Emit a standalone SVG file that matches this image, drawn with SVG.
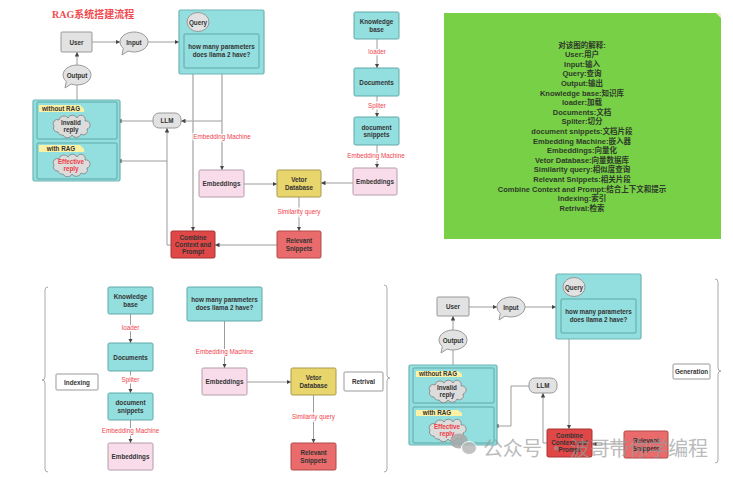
<svg xmlns="http://www.w3.org/2000/svg" width="733" height="477" viewBox="0 0 733 477">
<style>
.t{font-family:"Liberation Sans","Noto Sans CJK SC",sans-serif;font-size:6.3px;font-weight:bold;fill:#333;text-anchor:middle}
.lb{font-family:"Liberation Sans","Noto Sans CJK SC",sans-serif;font-size:6.3px;fill:#f0434b;text-anchor:middle;stroke:#fff;stroke-width:2.5px;paint-order:stroke}
.red{fill:#ee3b45}
.teal{fill:#93dede;stroke:#5fa9a9;stroke-width:1}
.tealc{fill:#93dede;stroke:#6fb5b5;stroke-width:1.2}
.gray{fill:#e2e2e2;stroke:#999;stroke-width:1}
.pink{fill:#f9dcea;stroke:#b49cab;stroke-width:1}
.yel{fill:#e8d56c;stroke:#a9994f;stroke-width:1}
.rel{fill:#ea6b6b;stroke:#b04a4a;stroke-width:1}
.comb{fill:#e04848;stroke:#a83333;stroke-width:1}
.tag{fill:#fdf1a4}
.wb{fill:#fff;stroke:#999;stroke-width:1}
.c{fill:none;stroke:#9c9c9c;stroke-width:1}
.cw{fill:none;stroke:#b0b0b0;stroke-width:1.4}
.br{fill:none;stroke:#aaa;stroke-width:1}
.g{font-family:"Liberation Sans","Noto Sans CJK SC",sans-serif;font-size:7.5px;font-weight:bold;fill:#2e3a2a;text-anchor:middle}
.wm{font-family:"Noto Sans CJK SC","Liberation Sans",sans-serif;font-size:20px;fill:#9a9a9a;fill-opacity:0.8}
</style>
<defs>
<marker id="ah" viewBox="0 0 6 6" refX="6" refY="3" markerWidth="4.5" markerHeight="4.5" markerUnits="userSpaceOnUse" orient="auto"><path d="M0,0 L6,3 L0,6 Z" fill="#444"/></marker>
<path id="cloud" d="M-13,6 A4 4 0 0 1 -17,0 A4 4 0 0 1 -12,-6 A5 5 0 0 1 -3,-8 A5 5 0 0 1 6,-8 A4 4 0 0 1 14,-5 A4 4 0 0 1 16,3 A4 4 0 0 1 10,8 A5 5 0 0 1 1,9 A5 5 0 0 1 -8,9 A4 4 0 0 1 -13,6 Z" fill="#dcdcdc" stroke="#888" stroke-width="0.9"/>
<path id="bubble" d="M-5.9,9.06 L-12,13 L-10.7,6.43 A14 10 0 1 1 -5.9,9.06 Z" fill="#e2e2e2" stroke="#999" stroke-width="1"/>
</defs>
<rect width="733" height="477" fill="#fff"/>

<text x="52" y="18" font-family="Liberation Serif,'Noto Sans CJK SC',serif" font-size="10" font-weight="bold" fill="#f04a4f">RAG系统搭建流程</text>

<!-- ===== Connectors ===== -->
<g id="connectors">
  <!-- top diagram -->
  <path class="c" d="M92,42 H120" marker-end="url(#ah)"/>
  <path class="c" d="M148,42 H179" marker-end="url(#ah)"/>
  <path class="c" d="M77,65 V52" marker-end="url(#ah)"/>
  <path class="c" d="M77,100 V85"/>
  <path class="c" d="M153,121 H117" marker-end="url(#ah)"/>
  <path class="cw" d="M222,68 V170" marker-end="url(#ah)"/>
  <path class="c" d="M222,121 H181" marker-end="url(#ah)"/>
  <path class="cw" d="M193,68 V231" marker-end="url(#ah)"/>
  <path class="c" d="M171,245 H167 V128" marker-end="url(#ah)"/>
  <path class="c" d="M167,161 H117" marker-end="url(#ah)"/>
  <path class="c" d="M244,184 H277" marker-end="url(#ah)"/>
  <path class="c" d="M353,183 H321" marker-end="url(#ah)"/>
  <path class="c" d="M299,197 V231" marker-end="url(#ah)"/>
  <path class="c" d="M277,245 H215" marker-end="url(#ah)"/>
  <path class="c" d="M377,39 V68" marker-end="url(#ah)"/>
  <path class="c" d="M377,96 V117" marker-end="url(#ah)"/>
  <path class="c" d="M377,145 V168" marker-end="url(#ah)"/>
  <text class="lb" x="222" y="139">Embedding Machine</text>
  <text class="lb" x="299" y="214">Similarity query</text>
  <text class="lb" x="377" y="54">loader</text>
  <text class="lb" x="377" y="108">Spliter</text>
  <text class="lb" x="376" y="158">Embedding Machine</text>
  <!-- indexing -->
  <path class="c" d="M130.5,314 V343" marker-end="url(#ah)"/>
  <path class="c" d="M130.5,371 V393" marker-end="url(#ah)"/>
  <path class="c" d="M130.5,420 V443" marker-end="url(#ah)"/>
  <text class="lb" x="130.5" y="330">loader</text>
  <text class="lb" x="130.5" y="382">Spliter</text>
  <text class="lb" x="130.5" y="433">Embedding Machine</text>
  <!-- retrival -->
  <path class="c" d="M224.5,321 V368" marker-end="url(#ah)"/>
  <path class="c" d="M247,382 H291" marker-end="url(#ah)"/>
  <path class="c" d="M313.5,395 V443" marker-end="url(#ah)"/>
  <text class="lb" x="224.5" y="354">Embedding Machine</text>
  <text class="lb" x="313.5" y="419">Similarity query</text>
  <!-- generation -->
  <path class="c" d="M469,307 H497" marker-end="url(#ah)"/>
  <path class="c" d="M525,307 H556" marker-end="url(#ah)"/>
  <path class="c" d="M453,330 V316" marker-end="url(#ah)"/>
  <path class="c" d="M453,365 V350"/>
  <path class="c" d="M529,386 H511 V426 H494" marker-end="url(#ah)"/>
  <path class="c" d="M547,443 H543 V393" marker-end="url(#ah)"/>
  <path class="c" d="M569,333 V429" marker-end="url(#ah)"/>
  <path class="c" d="M624,444 H592" marker-end="url(#ah)"/>
</g>

<!-- ===== Top diagram nodes ===== -->
<g id="user1"><rect class="gray" x="61" y="32" width="31" height="20" rx="1"/><text class="t" x="76.5" y="44.5">User</text></g>
<g id="input1"><use href="#bubble" x="134" y="42"/><text class="t" x="134" y="44.5">Input</text></g>
<g id="query1">
  <rect class="tealc" x="179" y="10" width="85" height="64" rx="1.5"/>
  <ellipse cx="198" cy="22" rx="11" ry="9.5" fill="#e2e2e2" stroke="#999"/>
  <text class="t" x="198" y="24.5">Query</text>
  <rect class="teal" x="184" y="34" width="75" height="34" rx="1"/>
  <text class="t" x="221.5" y="49">how many parameters</text>
  <text class="t" x="221.5" y="57">does llama 2 have?</text>
</g>
<g id="output1"><use href="#bubble" x="77" y="75"/><text class="t" x="77" y="77.5">Output</text></g>
<g id="replies1">
  <rect class="tealc" x="33" y="100" width="87" height="81" rx="1.5"/>
  <rect class="teal" x="37" y="102" width="80" height="37" rx="1"/>
  <path class="tag" d="M39,105 H80 L84,109 V112 H39 Z"/>
  <text class="t" x="61" y="110.5">without RAG</text>
  <use href="#cloud" x="71" y="126"/>
  <text class="t" x="71" y="124.5">Invalid</text>
  <text class="t" x="71" y="132">reply</text>
  <rect class="teal" x="37" y="143" width="80" height="36" rx="1"/>
  <path class="tag" d="M39,145 H80 L84,149 V152 H39 Z"/>
  <text class="t" x="61" y="150.5">with RAG</text>
  <use href="#cloud" x="71" y="165"/>
  <text class="t red" x="71" y="163.5">Effective</text>
  <text class="t red" x="71" y="171">reply</text>
</g>
<g id="llm1"><rect class="gray" x="153" y="113" width="28" height="15" rx="6"/><text class="t" x="167" y="123">LLM</text></g>
<g id="emb1"><rect class="pink" x="199" y="170" width="45" height="27" rx="1.5"/><text class="t" x="221.5" y="185.5">Embeddings</text></g>
<g id="vdb1"><rect class="yel" x="277" y="170" width="44" height="27" rx="1.5"/><text class="t" x="299" y="181.5">Vetor</text><text class="t" x="299" y="189.5">Database</text></g>
<g id="rel1"><rect class="rel" x="277" y="231" width="44" height="27" rx="1.5"/><text class="t" x="299" y="242.5">Relevant</text><text class="t" x="299" y="250.5">Snippets</text></g>
<g id="comb1"><rect class="comb" x="171" y="231" width="44" height="27" rx="1.5"/><text class="t" x="193" y="239.5">Combine</text><text class="t" x="193" y="246.5">Context and</text><text class="t" x="193" y="253.5">Prompt</text></g>
<g id="kb1"><rect class="teal" x="354" y="12" width="45" height="27" rx="1.5"/><text class="t" x="376.5" y="24">Knowledge</text><text class="t" x="376.5" y="31.5">base</text></g>
<g id="doc1"><rect class="teal" x="354" y="68" width="45" height="28" rx="1.5"/><text class="t" x="376.5" y="84.5">Documents</text></g>
<g id="snip1"><rect class="teal" x="354" y="117" width="45" height="28" rx="1.5"/><text class="t" x="376.5" y="129.5">document</text><text class="t" x="376.5" y="137">snippets</text></g>
<g id="emb1r"><rect class="pink" x="353" y="168" width="44" height="27" rx="1.5"/><text class="t" x="375" y="183.5">Embeddings</text></g>

<!-- ===== Legend ===== -->
<g id="legend">
  <rect x="444" y="13" width="277" height="226" fill="#78d047"/>
  <path d="M716,13 L721,13 L721,18 Z" fill="#f3ead0"/>
  <text class="g" x="582" y="47.5">对该图的解释:</text>
  <text class="g" x="582" y="57.1">User:用户</text>
  <text class="g" x="582" y="66.7">Input:输入</text>
  <text class="g" x="582" y="76.3">Query:查询</text>
  <text class="g" x="582" y="85.9">Output:输出</text>
  <text class="g" x="582" y="95.5">Knowledge base:知识库</text>
  <text class="g" x="582" y="105.1">loader:加载</text>
  <text class="g" x="582" y="114.7">Documents:文档</text>
  <text class="g" x="582" y="124.3">Spliter:切分</text>
  <text class="g" x="582" y="133.9">document snippets:文档片段</text>
  <text class="g" x="582" y="143.5">Embedding Machine:嵌入器</text>
  <text class="g" x="582" y="153.1">Embeddings:向量化</text>
  <text class="g" x="582" y="162.7">Vetor Database:向量数据库</text>
  <text class="g" x="582" y="172.3">Similarity query:相似度查询</text>
  <text class="g" x="582" y="181.9">Relevant Snippets:相关片段</text>
  <text class="g" x="582" y="191.5">Combine Context and Prompt:结合上下文和提示</text>
  <text class="g" x="582" y="201.1">Indexing:索引</text>
  <text class="g" x="582" y="210.7">Retrival:检索</text>
</g>

<!-- ===== Indexing ===== -->
<path class="br" d="M48,287 Q45,287 45,290 V377 Q45,380 42,380 Q45,380 45,383 V469 Q45,472 48,472"/>
<g id="indexing"><rect class="wb" x="56" y="374" width="42" height="16" rx="1"/><text class="t" x="77" y="384.5">Indexing</text></g>
<g id="kb2"><rect class="teal" x="108" y="287" width="45" height="27" rx="1.5"/><text class="t" x="130.5" y="299">Knowledge</text><text class="t" x="130.5" y="306.5">base</text></g>
<g id="doc2"><rect class="teal" x="108" y="343" width="45" height="28" rx="1.5"/><text class="t" x="130.5" y="359.5">Documents</text></g>
<g id="snip2"><rect class="teal" x="108" y="393" width="45" height="27" rx="1.5"/><text class="t" x="130.5" y="405">document</text><text class="t" x="130.5" y="412.5">snippets</text></g>
<g id="emb2"><rect class="pink" x="108" y="443" width="45" height="27" rx="1.5"/><text class="t" x="130.5" y="458.5">Embeddings</text></g>

<!-- ===== Retrival ===== -->
<g id="query2"><rect class="teal" x="187" y="287" width="75" height="34" rx="1.5"/><text class="t" x="224.5" y="302">how many parameters</text><text class="t" x="224.5" y="310">does llama 2 have?</text></g>
<g id="emb3"><rect class="pink" x="202" y="368" width="45" height="27" rx="1.5"/><text class="t" x="224.5" y="383.5">Embeddings</text></g>
<g id="vdb2"><rect class="yel" x="291" y="368" width="45" height="27" rx="1.5"/><text class="t" x="313.5" y="379.5">Vetor</text><text class="t" x="313.5" y="387.5">Database</text></g>
<g id="rel2"><rect class="rel" x="291" y="443" width="45" height="27" rx="1.5"/><text class="t" x="313.5" y="454.5">Relevant</text><text class="t" x="313.5" y="462.5">Snippets</text></g>
<g id="retrival"><rect class="wb" x="344" y="372" width="39" height="19" rx="1"/><text class="t" x="363.5" y="384">Retrival</text></g>
<path class="br" d="M384,285 Q387,285 387,288 V375 Q387,378 390,378 Q387,378 387,381 V469 Q387,472 384,472"/>

<!-- ===== Generation ===== -->
<g id="user3"><rect class="gray" x="437" y="297" width="32" height="19" rx="1"/><text class="t" x="453" y="309">User</text></g>
<g id="input3"><use href="#bubble" x="511" y="307"/><text class="t" x="511" y="309.5">Input</text></g>
<g id="query3">
  <rect class="tealc" x="556" y="274" width="85" height="65" rx="1.5"/>
  <ellipse cx="574" cy="287" rx="11" ry="9.5" fill="#e2e2e2" stroke="#999"/>
  <text class="t" x="574" y="289.5">Query</text>
  <rect class="teal" x="561" y="299" width="75" height="34" rx="1"/>
  <text class="t" x="598.5" y="314">how many parameters</text>
  <text class="t" x="598.5" y="322">does llama 2 have?</text>
</g>
<g id="output3"><use href="#bubble" x="453" y="340"/><text class="t" x="453" y="342.5">Output</text></g>
<g id="replies3">
  <rect class="tealc" x="409" y="365" width="88" height="80" rx="1.5"/>
  <rect class="teal" x="413" y="368" width="81" height="35" rx="1"/>
  <path class="tag" d="M416,371 H458 L462,374 V377 H416 Z"/>
  <text class="t" x="438" y="376">without RAG</text>
  <use href="#cloud" x="447" y="391"/>
  <text class="t" x="447" y="389.5">Invalid</text>
  <text class="t" x="447" y="397">reply</text>
  <rect class="teal" x="413" y="407" width="81" height="36" rx="1"/>
  <path class="tag" d="M416,410 H458 L462,413 V416 H416 Z"/>
  <text class="t" x="437" y="415">with RAG</text>
  <use href="#cloud" x="447" y="430"/>
  <text class="t red" x="447" y="428.5">Effective</text>
  <text class="t red" x="447" y="436">reply</text>
</g>
<g id="llm3"><rect class="gray" x="529" y="378" width="28" height="15" rx="6"/><text class="t" x="543" y="388">LLM</text></g>
<g id="comb3"><rect class="comb" x="547" y="429" width="45" height="28" rx="1.5"/><text class="t" x="569.5" y="437.5">Combine</text><text class="t" x="569.5" y="444.5">Context and</text><text class="t" x="569.5" y="451.5">Prompt</text></g>
<g id="rel3"><rect class="rel" x="624" y="431" width="44" height="27" rx="1.5"/><text class="t" x="646" y="442.5">Relevant</text><text class="t" x="646" y="450.5">Snippets</text></g>
<g id="generation"><rect class="wb" x="673" y="364" width="37" height="15" rx="1"/><text class="t" x="691.5" y="374">Generation</text></g>
<path class="br" d="M715,279 Q718,279 718,282 V368 Q718,371 721,371 Q718,371 718,374 V460 Q718,463 715,463"/>

<!-- ===== Watermark ===== -->
<g id="watermark" opacity="0.85">
  <ellipse cx="459" cy="441" rx="9" ry="7.5" fill="#a8a8a8"/>
  <ellipse cx="469" cy="448" rx="7.5" ry="6.5" fill="#b8b8b8" stroke="#fff" stroke-width="1"/>
  <text class="wm" x="483" y="456" textLength="225" lengthAdjust="spacing">公众号 · 波哥带你学编程</text>
</g>
</svg>
